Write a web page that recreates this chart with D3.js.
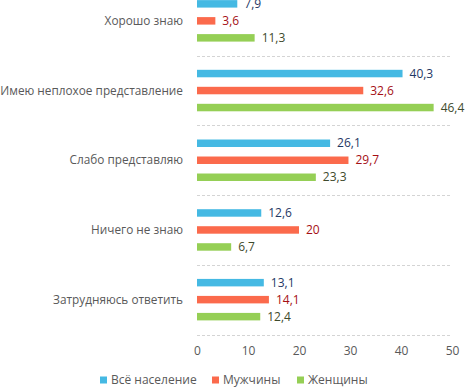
<!DOCTYPE html>
<html>
<head>
<meta charset="utf-8">
<script src="https://cdn.jsdelivr.net/npm/d3@7"></script>
<style>
  body { margin: 0; background: #fff; }
  svg text { font-family: "Open Sans", sans-serif; }
</style>
</head>
<body>
<div class="chart"></div>
<script>
const categories = ["Хорошо знаю", "Имею неплохое представление", "Слабо представляю", "Ничего не знаю", "Затрудняюсь ответить"];
const seriesNames = ["Всё население", "Мужчины", "Женщины"];
const allValues = [7.9, 40.3, 26.1, 12.6, 13.1];
const menValues = [3.6, 32.6, 29.7, 20, 14.1];
const womenValues = [11.3, 46.4, 23.3, 6.7, 12.4];
const xTicks = [0, 10, 20, 30, 40, 50];

const colors = ["#45b9e3", "#fb6a4c", "#95cf55"];
const labelColors = ["#1f3864", "#a50f15", "#3e4a2c"];

const width = 466, height = 387;

const rows = categories.map((c, i) => ({
	category: c,
	values: [allValues[i], menValues[i], womenValues[i]]
}));

const svg = d3
	.select(".chart")
	.append("svg")
	.attr("width", width)
	.attr("height", height);

const x = d3.scaleLinear().domain([0, 50]).range([197, 452]);
const y = d3.scaleBand().domain(categories).range([-14, 334.5]);
const inner = d3
	.scaleBand()
	.domain(seriesNames)
	.range([0, y.bandwidth()])
	.paddingInner(0.56)
	.paddingOuter(0.83);

// dashed separators between categories
svg.append("g")
	.selectAll("line")
	.data(categories)
	.enter()
	.append("line")
	.attr("x1", x(0))
	.attr("x2", x(50))
	.attr("y1", (d) => Math.round(y(d) + y.bandwidth()) + 0.5)
	.attr("y2", (d) => Math.round(y(d) + y.bandwidth()) + 0.5)
	.attr("stroke", "#d4d4d4")
	.attr("stroke-dasharray", "3,2");

// category labels
svg.append("g")
	.selectAll("text")
	.data(categories)
	.enter()
	.append("text")
	.attr("x", 183)
	.attr("y", (d) => y(d) + y.bandwidth() / 2)
	.attr("dy", "0.35em")
	.attr("text-anchor", "end")
	.attr("fill", "#595959")
	.style("font-size", "11.8px")
	.text((d) => d);

const groups = svg
	.selectAll(".row")
	.data(rows)
	.enter()
	.append("g")
	.attr("class", "row")
	.attr("transform", (d) => `translate(0,${y(d.category)})`);

groups
	.selectAll("rect")
	.data((d) => d.values.map((v, i) => ({ v, s: seriesNames[i], i })))
	.enter()
	.append("rect")
	.attr("x", x(0))
	.attr("y", (d) => inner(d.s))
	.attr("width", (d) => x(d.v) - x(0))
	.attr("height", inner.bandwidth())
	.attr("fill", (d) => colors[d.i]);

groups
	.selectAll("text")
	.data((d) => d.values.map((v, i) => ({ v, s: seriesNames[i], i })))
	.enter()
	.append("text")
	.attr("x", (d) => x(d.v) + 7)
	.attr("y", (d) => inner(d.s) + inner.bandwidth() / 2)
	.attr("dy", "0.35em")
	.attr("fill", (d) => labelColors[d.i])
	.style("font-size", "12px")
	.text((d) => String(d.v).replace(".", ","));

// x axis, labels only
const xAxis = svg
	.append("g")
	.attr("transform", "translate(0,334)")
	.call(d3.axisBottom(x).tickValues(xTicks).tickSize(0).tickPadding(12));
xAxis.select(".domain").remove();
xAxis.selectAll("text").attr("fill", "#595959").style("font-size", "12px").style("font-family", "'Open Sans', sans-serif");

// legend
const legendX = [100, 212, 297];
const legend = svg
	.append("g")
	.selectAll("g")
	.data(seriesNames)
	.enter()
	.append("g")
	.attr("transform", (d, i) => `translate(${legendX[i]},380)`);
legend
	.append("rect")
	.attr("x", 0)
	.attr("y", -3.5)
	.attr("width", 7)
	.attr("height", 7)
	.attr("fill", (d, i) => colors[i]);
legend
	.append("text")
	.attr("x", 11)
	.attr("y", 0)
	.attr("dy", "0.35em")
	.attr("fill", "#595959")
	.style("font-size", "12px")
	.text((d) => d);
</script>
</body>
</html>
